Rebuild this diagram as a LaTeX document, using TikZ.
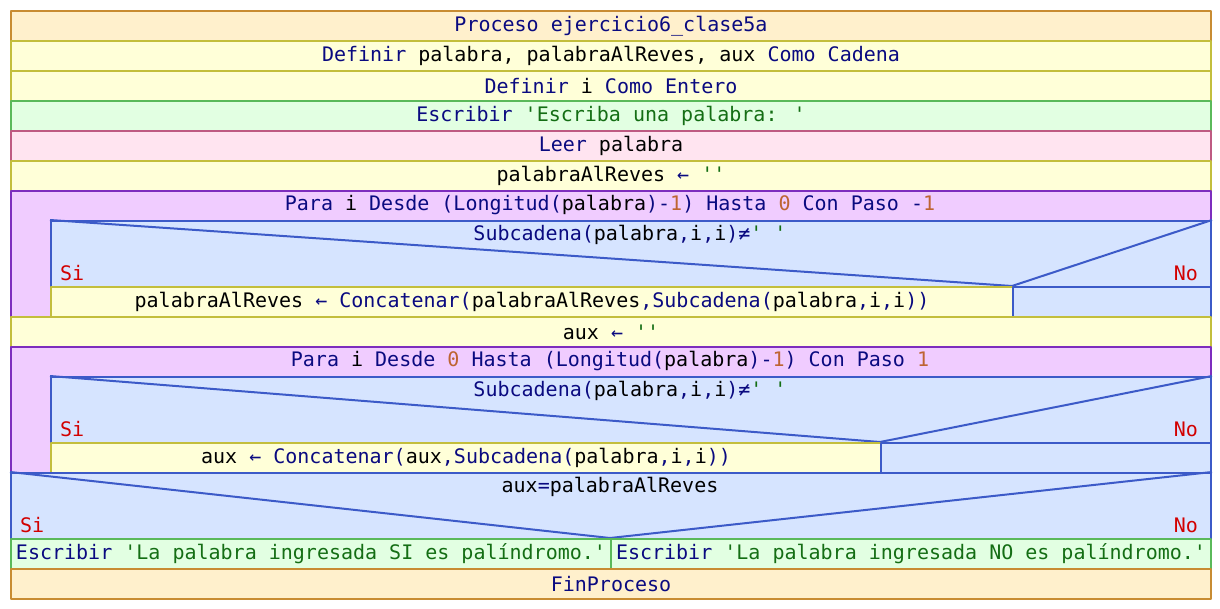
\documentclass[tikz,border=0pt]{standalone}
\usepackage{fontspec}
\newfontfamily\mono{DejaVu Sans Mono}[Ligatures=TeXOff]
\definecolor{azul}{RGB}{10,10,128}
\definecolor{verdeT}{RGB}{20,110,20}
\definecolor{numC}{RGB}{190,100,50}
\definecolor{rojo}{RGB}{210,0,0}
\definecolor{procF}{RGB}{255,240,204}\definecolor{procB}{RGB}{200,140,50}
\definecolor{asigF}{RGB}{255,255,216}\definecolor{asigB}{RGB}{195,190,60}
\definecolor{escrF}{RGB}{226,255,226}\definecolor{escrB}{RGB}{90,185,90}
\definecolor{leerF}{RGB}{255,228,240}\definecolor{leerB}{RGB}{190,90,130}
\definecolor{paraF}{RGB}{240,204,255}\definecolor{paraB}{RGB}{125,45,190}
\definecolor{condF}{RGB}{214,228,255}\definecolor{condB}{RGB}{60,90,200}
\newcommand\vr[1]{\textcolor{black}{#1}} % variables
\newcommand\cad[1]{\textcolor{verdeT}{#1}} % cadenas
\newcommand\nm[1]{\textcolor{numC}{#1}} % numeros
% estilo, nombre, x1, y1, x2, y2, texto
\newcommand\bloque[7]{\node[#1, minimum width={#5-#3}, minimum height={#6-#4}] (#2) at (#3,#4) {#7};}
\begin{document}
\begin{tikzpicture}[x=1pt, y=-1pt, line width=2pt, line join=round,
	every node/.style={font=\mono\fontsize{20}{24}\selectfont, text=azul},
	caja/.style={draw, anchor=north west, inner sep=0pt},
	proc/.style={caja, fill=procF, draw=procB},
	asig/.style={caja, fill=asigF, draw=asigB},
	escr/.style={caja, fill=escrF, draw=escrB},
	leer/.style={caja, fill=leerF, draw=leerB},
	para/.style={caja, fill=paraF, draw=paraB},
	cond/.style={caja, fill=condF, draw=condB},
	diag/.style={draw=condB},
	rama/.style={text=rojo, inner sep=1pt}]
	\useasboundingbox (0,0) rectangle (1220,608);
	\bloque{proc}{ini}{10}{10}{1210}{40}{Proceso ejercicio6\_clase5a}
	\bloque{asig}{def1}{10}{40}{1210}{70}{Definir \vr{palabra, palabraAlReves, aux} Como Cadena}
	\bloque{asig}{def2}{10}{70}{1210}{100}{Definir \vr{i} Como Entero}
	\bloque{escr}{esc1}{10}{100}{1210}{130}{Escribir \cad{'Escriba una palabra: '}}
	\bloque{leer}{lee1}{10}{130}{1210}{160}{Leer \vr{palabra}}
	\bloque{asig}{asi1}{10}{160}{1210}{190}{\vr{palabraAlReves} ← \cad{''}}
	% primer ciclo
	\bloque{para}{para1}{10}{190}{1210}{316}{}
	\node (tpara1) at (610,205) {Para \vr{i} Desde (Longitud(\vr{palabra})-\nm{1}) Hasta \nm{0} Con Paso -\nm{1}};
	\bloque{cond}{si1}{50}{220}{1210}{286}{}
	\coordinate (m1) at (1012,286);
	\draw[diag] (si1.north west) -- (m1) -- (si1.north east);
	\node (tsi1) at (630,235) {Subcadena(\vr{palabra},\vr{i},\vr{i})≠\cad{' '}};
	\node[rama, anchor=west] (s1) at (58,273) {Si};
	\node[rama, anchor=east] (n1) at (1200,273) {No};
	\bloque{asig}{v1}{50}{286}{1012}{316}{\vr{palabraAlReves} ← Concatenar(\vr{palabraAlReves},Subcadena(\vr{palabra},\vr{i},\vr{i}))}
	\bloque{cond}{f1}{1012}{286}{1210}{316}{}
	\bloque{asig}{asi2}{10}{316}{1210}{346}{\vr{aux} ← \cad{''}}
	% segundo ciclo
	\bloque{para}{para2}{10}{346}{1210}{472}{}
	\node (tpara2) at (610,361) {Para \vr{i} Desde \nm{0} Hasta (Longitud(\vr{palabra})-\nm{1}) Con Paso \nm{1}};
	\bloque{cond}{si2}{50}{376}{1210}{442}{}
	\coordinate (m2) at (880,442);
	\draw[diag] (si2.north west) -- (m2) -- (si2.north east);
	\node (tsi2) at (630,391) {Subcadena(\vr{palabra},\vr{i},\vr{i})≠\cad{' '}};
	\node[rama, anchor=west] (s2) at (58,429) {Si};
	\node[rama, anchor=east] (n2) at (1200,429) {No};
	\bloque{asig}{v2}{50}{442}{880}{472}{\vr{aux} ← Concatenar(\vr{aux},Subcadena(\vr{palabra},\vr{i},\vr{i}))}
	\bloque{cond}{f2}{880}{442}{1210}{472}{}
	% comparacion final
	\bloque{cond}{si3}{10}{472}{1210}{538}{}
	\coordinate (m3) at (610,538);
	\draw[diag] (si3.north west) -- (m3) -- (si3.north east);
	\node (tsi3) at (610,487) {\vr{aux}=\vr{palabraAlReves}};
	\node[rama, anchor=west] (s3) at (18,525) {Si};
	\node[rama, anchor=east] (n3) at (1200,525) {No};
	\bloque{escr}{v3}{10}{538}{610}{568}{Escribir \cad{'La palabra ingresada SI es palíndromo.'}}
	\bloque{escr}{f3}{610}{538}{1210}{568}{Escribir \cad{'La palabra ingresada NO es palíndromo.'}}
	\bloque{proc}{fin}{10}{568}{1210}{598}{FinProceso}
\end{tikzpicture}
\end{document}
